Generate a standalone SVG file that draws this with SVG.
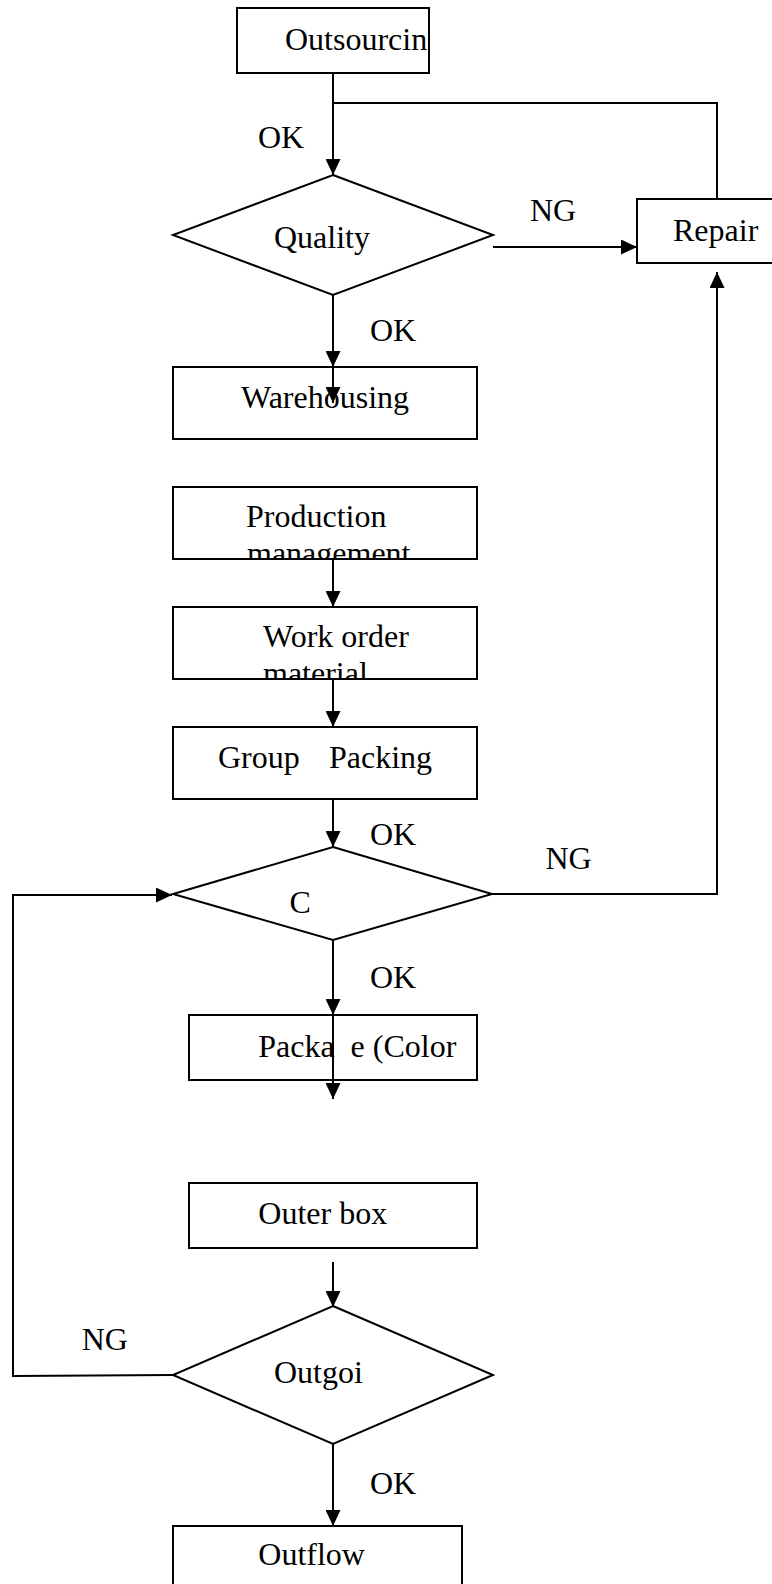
<svg xmlns="http://www.w3.org/2000/svg" width="772" height="1584" viewBox="0 0 772 1584">
  <style>
    .box { fill: #fff; stroke: #000; stroke-width: 2; }
    .lbl { font-family: "Liberation Serif", "Times New Roman", serif; font-size: 32px; fill: #000; white-space: pre; }
    .wire { fill: none; stroke: #000; stroke-width: 2; }
    .arr { marker-end: url(#head); }
  </style>
  <defs>
    <marker id="head" markerUnits="userSpaceOnUse" markerWidth="16" markerHeight="15" refX="16" refY="7.5" orient="auto">
      <path d="M0,0 L16,7.5 L0,15 z" fill="#000"/>
    </marker>
    <clipPath id="clipProd"><rect x="173" y="487" width="304" height="72"/></clipPath>
    <clipPath id="clipWork"><rect x="173" y="607" width="304" height="72"/></clipPath>
  </defs>

  <rect width="772" height="1584" fill="#fff"/>

  <!-- process steps and decisions -->
  <g id="outsourcing">
    <rect class="box" x="237" y="8" width="192" height="65"/>
    <text class="lbl" x="285" y="49.5">Outsourcin</text>
  </g>

  <g id="quality">
    <polygon class="box" points="333,175 493,235 333,295 173,235"/>
    <text class="lbl" x="274" y="248">Quality</text>
  </g>

  <g id="repair">
    <rect class="box" x="637" y="199" width="160" height="64"/>
    <text class="lbl" x="673" y="241">Repair</text>
  </g>

  <g id="warehousing">
    <rect class="box" x="173" y="367" width="304" height="72"/>
    <text class="lbl" x="241" y="408">Warehousing</text>
  </g>

  <g id="production">
    <rect class="box" x="173" y="487" width="304" height="72"/>
    <g clip-path="url(#clipProd)">
      <text class="lbl" x="246" y="527">Production</text>
      <text class="lbl" x="247" y="563.5">management</text>
    </g>
  </g>

  <g id="work-order">
    <rect class="box" x="173" y="607" width="304" height="72"/>
    <g clip-path="url(#clipWork)">
      <text class="lbl" x="263" y="647">Work order</text>
      <text class="lbl" x="263" y="683.5">material</text>
    </g>
  </g>

  <g id="group-packing">
    <rect class="box" x="173" y="727" width="304" height="72"/>
    <text class="lbl" x="218" y="768">Group <tspan x="329">Packing</tspan></text>
  </g>

  <g id="check-c">
    <polygon class="box" points="333,847 492,894 333,940 173,894"/>
    <text class="lbl" x="289.5" y="913">C</text>
  </g>

  <g id="package">
    <rect class="box" x="189" y="1015" width="288" height="65"/>
    <text class="lbl" x="258.3" y="1056.7">Packa <tspan x="350.6">e (Color</tspan></text>
  </g>

  <g id="outer-box">
    <rect class="box" x="189" y="1183" width="288" height="65"/>
    <text class="lbl" x="258.3" y="1224">Outer box</text>
  </g>

  <g id="outgoing">
    <polygon class="box" points="333,1306 493,1375 333,1444 173,1375"/>
    <text class="lbl" x="274" y="1383">Outgoi</text>
  </g>

  <g id="outflow">
    <rect class="box" x="173" y="1526" width="289" height="80"/>
    <text class="lbl" x="258.3" y="1565">Outflow</text>
  </g>

  <!-- connectors -->
  <g id="connectors">
    <line class="wire arr" x1="333" y1="73" x2="333" y2="175"/>
    <polyline class="wire" points="333,103 717,103 717,199"/>
    <line class="wire arr" x1="493" y1="247" x2="637" y2="247"/>
    <line class="wire arr" x1="333" y1="295" x2="333" y2="367"/>
    <line class="wire arr" x1="333" y1="367" x2="333" y2="403"/>
    <line class="wire arr" x1="333" y1="559" x2="333" y2="607"/>
    <line class="wire arr" x1="333" y1="679" x2="333" y2="727"/>
    <line class="wire arr" x1="333" y1="799" x2="333" y2="847"/>
    <polyline class="wire arr" points="492,894 717,894 717,272"/>
    <line class="wire arr" x1="333" y1="940" x2="333" y2="1015"/>
    <line class="wire arr" x1="333" y1="1015" x2="333" y2="1099"/>
    <line class="wire arr" x1="333" y1="1262" x2="333" y2="1307"/>
    <polyline class="wire arr" points="173,1375 13,1376 13,895 172,895"/>
    <line class="wire arr" x1="333" y1="1444" x2="333" y2="1526"/>
  </g>

  <!-- branch labels -->
  <g id="labels">
    <text class="lbl" x="258" y="148">OK</text>
    <text class="lbl" x="530" y="221">NG</text>
    <text class="lbl" x="370" y="341">OK</text>
    <text class="lbl" x="370" y="845">OK</text>
    <text class="lbl" x="545.5" y="869">NG</text>
    <text class="lbl" x="370" y="988">OK</text>
    <text class="lbl" x="81.7" y="1350">NG</text>
    <text class="lbl" x="370" y="1494">OK</text>
  </g>
</svg>
